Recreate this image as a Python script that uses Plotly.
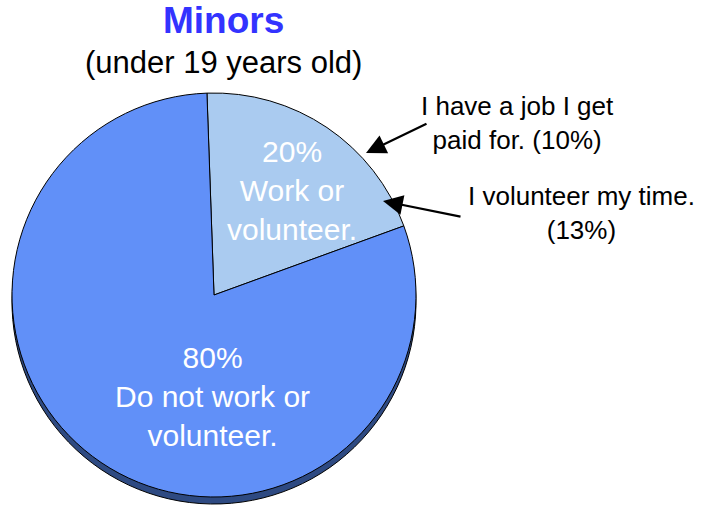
import plotly.graph_objects as go

# Data
slice_labels = ["Work or volunteer.", "Do not work or volunteer."]
slice_values = [20, 80]
slice_text_lines = [["Work or", "volunteer."], ["Do not work or", "volunteer."]]
callout_texts = ["I have a job I get<br>paid for. (10%)", "I volunteer my time.<br>(13%)"]
title_text = "Minors"
subtitle_text = "(under 19 years old)"

W, H = 702, 510
FONT = "Liberation Sans, Arial, sans-serif"

def px_x(x):
    return x / W

def px_y(y):
    return 1 - y / H

# pie face geometry (screen pixels)
cx, cy, r = 214, 295, 202
depth = 7

def dom(cx, cy, r):
    return dict(x=[px_x(cx - r), px_x(cx + r)],
                y=[px_y(cy + r), px_y(cy - r)])

fig = go.Figure()

# side / depth of the pie
fig.add_trace(go.Pie(
    labels=slice_labels, values=slice_values, sort=False,
    direction="clockwise", rotation=-2,
    marker=dict(colors=["#2E4A82", "#2E4A82"], line=dict(color="#000000", width=1)),
    textinfo="none", hoverinfo="skip", showlegend=False,
    domain=dom(cx, cy + depth, r),
))

# face of the pie
fig.add_trace(go.Pie(
    labels=slice_labels, values=slice_values, sort=False,
    direction="clockwise", rotation=-2,
    marker=dict(colors=["#AACBF0", "#6190F8"], line=dict(color="#000000", width=1)),
    textinfo="none", showlegend=False,
    domain=dom(cx, cy, r),
))

annotations = []

annotations.append(dict(text=f"<b>{title_text}</b>", x=px_x(223), y=px_y(21),
                        xref="paper", yref="paper", showarrow=False,
                        font=dict(family=FONT, size=37, color="#3333FF"),
                        xanchor="center", yanchor="middle"))
annotations.append(dict(text=subtitle_text, x=px_x(223), y=px_y(62),
                        xref="paper", yref="paper", showarrow=False,
                        font=dict(family=FONT, size=31, color="#000000"),
                        xanchor="center", yanchor="middle"))

label_pos = [(292, 190), (213, 396)]
for v, lines, (px, py) in zip(slice_values, slice_text_lines, label_pos):
    annotations.append(dict(text="<br>".join([f"{v}%"] + lines),
                            x=px_x(px), y=px_y(py), xref="paper", yref="paper",
                            showarrow=False, align="center",
                            font=dict(family=FONT, size=30, color="#FFFFFF"),
                            xanchor="center", yanchor="middle"))

callout_pos = [(517, 123), (581, 213)]
for t, (px, py) in zip(callout_texts, callout_pos):
    annotations.append(dict(text=t, x=px_x(px), y=px_y(py), xref="paper", yref="paper",
                            showarrow=False, align="center",
                            font=dict(family=FONT, size=26, color="#000000"),
                            xanchor="center", yanchor="middle"))

arrows = [((366, 153), (428, 123)), ((383, 201), (462, 217))]
for (tx, ty), (sx, sy) in arrows:
    annotations.append(dict(text="", x=px_x(tx), y=px_y(ty), xref="paper", yref="paper",
                            ax=sx - tx, ay=sy - ty, axref="pixel", ayref="pixel",
                            showarrow=True, arrowhead=2, arrowsize=1.8, arrowwidth=2.2,
                            arrowcolor="#000000", standoff=0))

fig.update_layout(
    width=W, height=H,
    margin=dict(l=0, r=0, t=0, b=0),
    paper_bgcolor="white", plot_bgcolor="white",
    annotations=annotations,
    showlegend=False,
)

fig.write_html("out.html",
               config={"displayModeBar": False},
               post_script="document.body.style.margin='0';document.body.style.overflow='hidden';")
